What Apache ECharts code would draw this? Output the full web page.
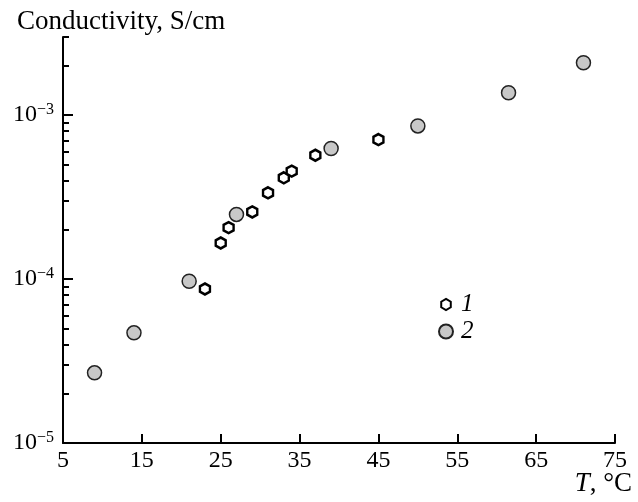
<!DOCTYPE html>
<html>
<head>
<meta charset="utf-8">
<script src="https://cdn.jsdelivr.net/npm/echarts@6/dist/echarts.min.js"></script>
<style>
  html, body { margin: 0; padding: 0; background: #fff; }
  #chart { width: 638px; height: 502px; }
</style>
</head>
<body>
<div id="chart"></div>
<script>
// series 1 (open hexagons) and series 2 (grey circles): [T in °C, conductivity S/cm]
var series1 = [[23, 8.7e-5], [25, 1.66e-4], [26, 2.06e-4], [29, 2.57e-4], [31, 3.36e-4],
               [33, 4.15e-4], [34, 4.56e-4], [37, 5.7e-4], [45, 7.1e-4]];
var series2 = [[9, 2.68e-5], [14, 4.7e-5], [21, 9.7e-5], [27, 2.48e-4], [39, 6.26e-4],
               [50, 8.6e-4], [61.5, 1.37e-3], [71, 2.09e-3]];
var seriesNames = ['1', '2'];
var majorTicks = [1e-5, 1e-4, 1e-3];
var minorTicks = [];
majorTicks.forEach(function (d) {
    for (var k = 2; k <= 9; k++) {
        if (d * k <= 3e-3) minorTicks.push(+(d * k).toPrecision(3));
    }
});

var font = '"Liberation Serif", "DejaVu Serif", serif';
var hexPath = 'path://M0,-1 L0.866,-0.5 L0.866,0.5 L0,1 L-0.866,0.5 L-0.866,-0.5 Z';
// same hexagon with some empty room round it, so the legend icon stays small
var hexLegend = 'path://M-1.27,-1.27 M1.27,1.27 M0,-1 L0.866,-0.5 L0.866,0.5 L0,1 L-0.866,0.5 L-0.866,-0.5 Z';

var myChart = echarts.init(document.getElementById('chart'));
var option = {
    animation: false,
    backgroundColor: '#fff',
    title: [
        {
            text: 'Conductivity, S/cm',
            left: 12, top: 3,
            textStyle: { fontFamily: font, fontSize: 27, fontWeight: 'normal', color: '#000' }
        },
        {
            text: '{i|T}, °C',
            right: 1, bottom: 0,
            textStyle: {
                fontFamily: font, fontSize: 27, fontWeight: 'normal', color: '#000',
                rich: { i: { fontFamily: font, fontSize: 27, fontStyle: 'italic', color: '#000' } }
            }
        }
    ],
    grid: { left: 63, right: 23, top: 37, bottom: 59 },
    legend: {
        orient: 'vertical',
        left: 438, top: 292,
        padding: 0,
        itemWidth: 14, itemHeight: 14, itemGap: 2,
        textStyle: { fontFamily: font, fontSize: 25, fontStyle: 'italic', color: '#000', lineHeight: 14, padding: [0, 0, 0, 3] },
        data: [{ name: seriesNames[0], icon: hexLegend }, { name: seriesNames[1], icon: 'circle' }]
    },
    xAxis: {
        type: 'value',
        min: 5, max: 75, interval: 10,
        axisLine: { lineStyle: { color: '#000', width: 2 } },
        axisTick: { inside: true, length: 9, lineStyle: { color: '#000', width: 2 } },
        axisLabel: { margin: 6, fontFamily: font, fontSize: 24, color: '#000' },
        splitLine: { show: false }
    },
    yAxis: [
        {
            type: 'log',
            min: 1e-5, max: 3e-3,
            axisLine: { show: true, lineStyle: { color: '#000', width: 2 } },
            axisTick: { inside: true, length: 10, customValues: majorTicks, lineStyle: { color: '#000', width: 2 } },
            axisLabel: {
                margin: 9,
                customValues: majorTicks,
                formatter: function (v) {
                    var e = Math.round(Math.log10(v));
                    return '{b|10}{s|\u2212' + (-e) + '}';
                },
                rich: {
                    b: { fontFamily: font, fontSize: 24, color: '#000', lineHeight: 26 },
                    s: { fontFamily: font, fontSize: 16, color: '#000', verticalAlign: 'top', lineHeight: 26 }
                }
            },
            splitLine: { show: false }
        },
        {
            type: 'log',
            min: 1e-5, max: 3e-3,
            position: 'left',
            axisLine: { show: false },
            axisTick: { inside: true, length: 6, customValues: minorTicks, lineStyle: { color: '#000', width: 2 } },
            axisLabel: { show: false },
            splitLine: { show: false }
        }
    ],
    series: [
        {
            name: seriesNames[0],
            type: 'scatter',
            data: series1,
            symbol: hexPath,
            symbolSize: [10, 11],
            itemStyle: { color: '#fff', borderColor: '#000', borderWidth: 2.5, opacity: 1 }
        },
        {
            name: seriesNames[1],
            type: 'scatter',
            data: series2,
            symbol: 'circle',
            symbolSize: 14,
            itemStyle: { color: '#c8c8c8', borderColor: '#222', borderWidth: 1.5, opacity: 1 }
        }
    ]
};
myChart.setOption(option);
</script>
</body>
</html>
